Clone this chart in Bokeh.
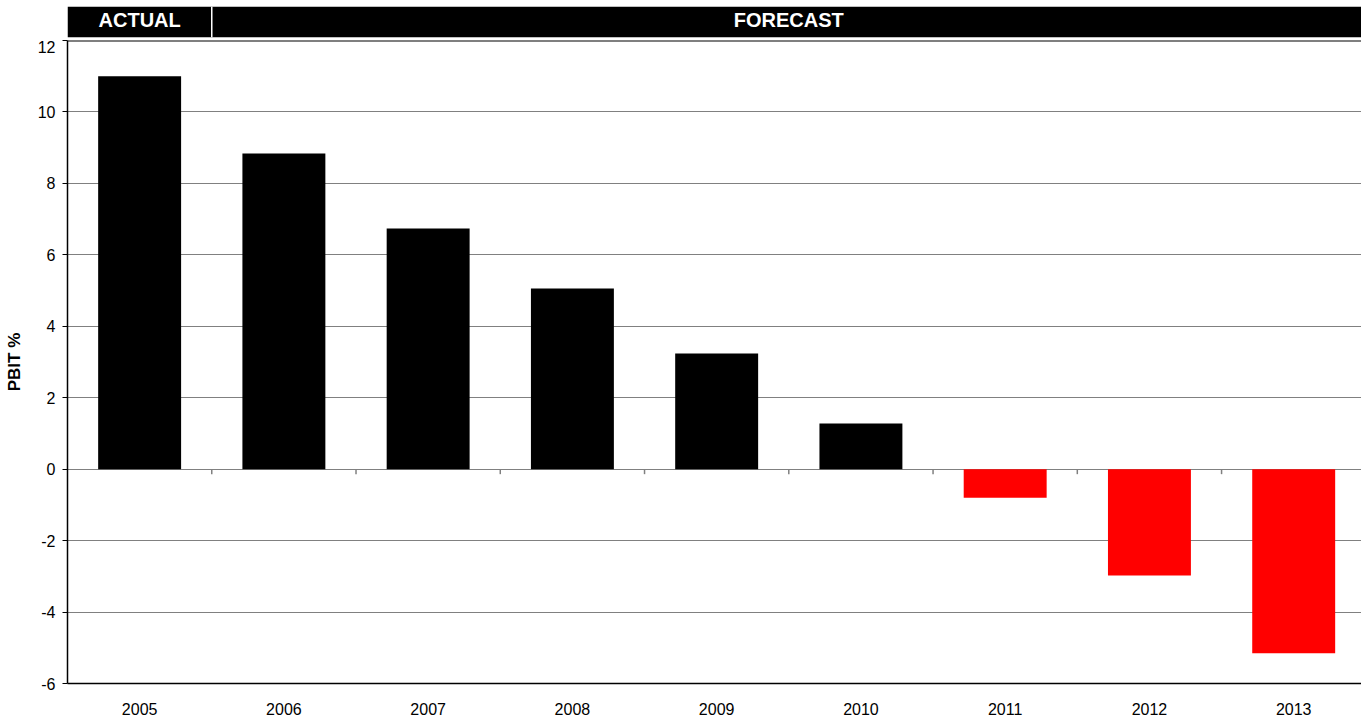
from bokeh.plotting import figure
from bokeh.models import Range1d, FixedTicker, ColumnDataSource, Span
from bokeh.layouts import column
from bokeh.core.properties import value
from bokeh.embed import file_html
from bokeh.resources import INLINE

# ---- data ----
years = ["2005", "2006", "2007", "2008", "2009", "2010", "2011", "2012", "2013"]
pbit = [11.0, 8.84, 6.74, 5.06, 3.24, 1.28, -0.80, -2.98, -5.15]
header_labels = ["ACTUAL", "FORECAST"]
header_counts = [1, 8]
y_ticks = [-6, -4, -2, 0, 2, 4, 6, 8, 10, 12]

FONT = "Liberation Sans"
W = 1361
LEFT = 67

n = len(years)
xs = [i + 0.5 for i in range(n)]
colors = ["#000000" if v >= 0 else "#FF0000" for v in pbit]
src = ColumnDataSource(dict(x=xs, top=pbit, year=years, color=colors))

x_range = Range1d(0, 8.97)

# ---- main chart ----
p = figure(width=W, height=679, x_range=x_range, y_range=Range1d(y_ticks[0], y_ticks[-1]),
           output_backend="svg", toolbar_location=None,
           min_border_left=LEFT, min_border_right=0, min_border_top=0, min_border_bottom=36)
p.background_fill_color = "white"
p.border_fill_color = "white"
p.outline_line_color = None

p.vbar(x="x", top="top", bottom=0, width=0.575, fill_color="color", line_color=None, source=src)

# zero line ticks at category boundaries
bounds = list(range(1, n))
tick_len = 5 * (y_ticks[-1] - y_ticks[0]) / 643
p.segment(x0=bounds, x1=bounds, y0=[0] * len(bounds), y1=[-tick_len] * len(bounds),
          line_color="#808080", line_width=1.5)

p.xgrid.visible = False
p.ygrid.ticker = FixedTicker(ticks=y_ticks)
p.ygrid.grid_line_color = "#808080"
p.ygrid.grid_line_width = 1
p.add_layout(Span(location=y_ticks[-1], dimension="width", line_color="black", line_width=2))

xa = p.xaxis[0]
xa.ticker = FixedTicker(ticks=xs)
xa.major_label_overrides = {x: y for x, y in zip(xs, years)}
xa.major_tick_line_color = None
xa.minor_tick_line_color = None
xa.axis_line_color = "black"
xa.axis_line_width = 1.5
xa.major_label_standoff = 13
xa.major_label_text_font = FONT
xa.major_label_text_font_size = "16px"
xa.major_label_text_color = "black"

ya = p.yaxis[0]
ya.ticker = FixedTicker(ticks=y_ticks)
ya.major_label_overrides = {t: str(t) for t in y_ticks}
ya.major_tick_out = 5
ya.major_tick_in = 0
ya.minor_tick_line_color = None
ya.axis_line_color = "black"
ya.axis_line_width = 1.5
ya.major_label_standoff = 7
ya.major_label_text_font = FONT
ya.major_label_text_font_size = "16px"
ya.major_label_text_color = "black"
ya.axis_label = "PBIT %"
ya.axis_label_text_font = FONT
ya.axis_label_text_font_style = "bold"
ya.axis_label_text_font_size = "17px"
ya.axis_label_text_color = "black"
ya.axis_label_standoff = 11

# ---- header band ----
starts = []
acc = 0
for c in header_counts:
    starts.append(acc)
    acc += c
ends = [s + c for s, c in zip(starts, header_counts)]
hsrc = ColumnDataSource(dict(left=starts, right=ends,
                             mid=[(s + e) / 2 for s, e in zip(starts, ends)],
                             label=header_labels))

h = figure(width=W, height=40, x_range=x_range, y_range=Range1d(0, 1),
           output_backend="svg", toolbar_location=None,
           min_border_left=LEFT, min_border_right=0, min_border_top=6, min_border_bottom=3)
h.axis.visible = False
h.grid.visible = False
h.outline_line_color = None
h.background_fill_color = "white"
h.border_fill_color = "white"
h.quad(left="left", right="right", bottom=0, top=1, source=hsrc,
       fill_color="black", line_color=None)
inner = ends[:-1]
h.segment(x0=inner, x1=inner, y0=[0] * len(inner), y1=[1] * len(inner),
          line_color="white", line_width=1.5)
h.text(x="mid", y=0.56, text="label", source=hsrc, text_color="white",
       text_font=value(FONT), text_align="center", text_baseline="middle",
       text_font_size="20px", text_font_style="bold")

layout = column(h, p, spacing=0)

open("out.html", "w").write(file_html(layout, INLINE))
